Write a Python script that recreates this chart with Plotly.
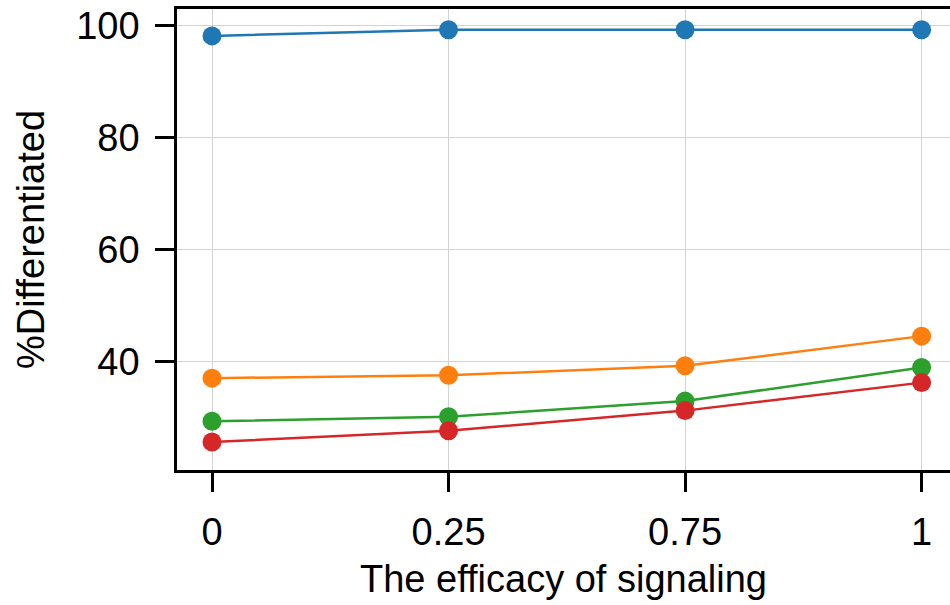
import plotly.graph_objects as go

x_labels = ["0", "0.25", "0.75", "1"]
blue = [98.2, 99.3, 99.3, 99.3]
orange = [37.1, 37.6, 39.3, 44.6]
green = [29.4, 30.2, 33.0, 39.0]
red = [25.7, 27.7, 31.3, 36.3]

series = [(blue, "#1f77b4"), (orange, "#ff7f0e"), (green, "#2ca02c"), (red, "#d62728")]

fig = go.Figure()
for vals, col in series:
    fig.add_trace(go.Scatter(
        x=list(range(len(x_labels))), y=vals, mode="lines+markers",
        line=dict(color=col, width=2.5),
        marker=dict(color=col, size=19),
        showlegend=False,
    ))

font_family = "Liberation Sans, Arial, sans-serif"
fig.update_layout(
    width=950, height=605,
    margin=dict(l=177, r=0, t=9, b=135),
    plot_bgcolor="white", paper_bgcolor="white",
    font=dict(family=font_family, color="black", size=38),
)
fig.update_xaxes(
    range=[-0.148, 3.12],
    tickvals=list(range(len(x_labels))), ticktext=x_labels,
    showline=True, linecolor="black", linewidth=2.5, mirror=True,
    ticks="outside", ticklen=19, tickwidth=2.5, tickcolor="black",
    showgrid=True, gridcolor="#d3d3d3", gridwidth=1,
    zeroline=False,
    tickfont=dict(size=38),
    ticklabelstandoff=8,
    title=dict(text="The efficacy of signaling", font=dict(size=38), standoff=14),
)
fig.update_yaxes(
    range=[20.7, 103.0],
    tickvals=[40, 60, 80, 100],
    showline=True, linecolor="black", linewidth=2.5, mirror=False,
    ticks="outside", ticklen=19, tickwidth=2.5, tickcolor="black",
    showgrid=True, gridcolor="#d3d3d3", gridwidth=1,
    zeroline=False,
    tickfont=dict(size=38),
    ticklabelstandoff=8,
    title=dict(text="%Differentiated", font=dict(size=38), standoff=20),
)

fig.write_html("out.html")
